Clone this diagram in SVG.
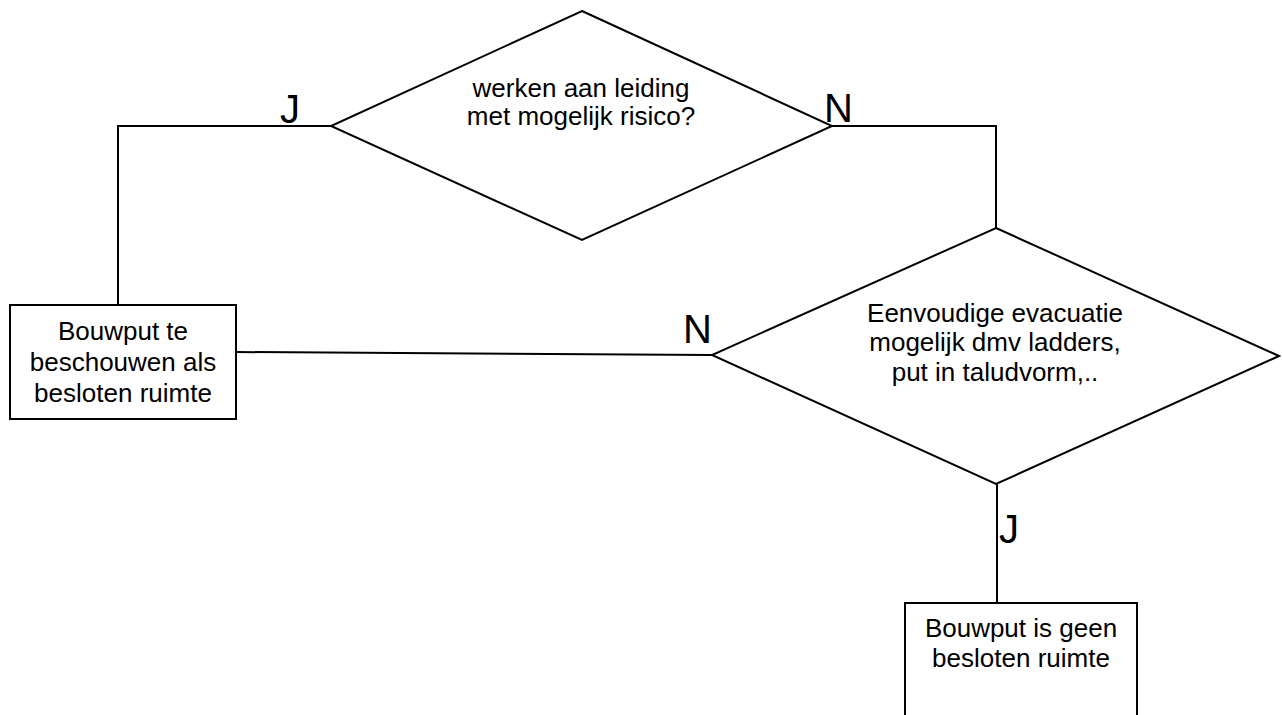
<svg xmlns="http://www.w3.org/2000/svg" width="1282" height="715" viewBox="0 0 1282 715">
<style>
.shape{fill:#fff;stroke:#000;stroke-width:2}
.line{fill:none;stroke:#000;stroke-width:2}
.t{font-family:"Liberation Sans",Arial,sans-serif;font-size:26px;fill:#000;text-anchor:middle}
.lbl{font-family:"Liberation Sans",Arial,sans-serif;font-size:40px;fill:#000}
</style>
<rect width="1282" height="715" fill="#fff"/>
<g id="connectors">
<polyline class="line" points="331,126 118,126 118,305"/>
<polyline class="line" points="832,126 996,126 996,228"/>
<line class="line" x1="236" y1="352" x2="712" y2="355"/>
<line class="line" x1="997" y1="484" x2="997" y2="603"/>
<text class="lbl" x="280" y="123">J</text>
<text class="lbl" x="824" y="122">N</text>
<text class="lbl" x="683" y="343">N</text>
<text class="lbl" x="999" y="543">J</text>
</g>
<g id="decision1">
<polygon class="shape" points="582,11 832,126 582,240 331,126"/>
<text class="t" x="581" y="97">werken aan leiding</text>
<text class="t" x="581" y="125">met mogelijk risico?</text>
</g>
<g id="decision2">
<polygon class="shape" points="996,228 1279,356 996,484 712,355"/>
<text class="t" x="995" y="322">Eenvoudige evacuatie</text>
<text class="t" x="995" y="351">mogelijk dmv ladders,</text>
<text class="t" x="995" y="381">put in taludvorm,..</text>
</g>
<g id="box1">
<rect class="shape" x="10" y="305" width="226" height="114"/>
<text class="t" x="123" y="340">Bouwput te</text>
<text class="t" x="123" y="371">beschouwen als</text>
<text class="t" x="123" y="402">besloten ruimte</text>
</g>
<g id="box2">
<rect class="shape" x="905" y="603" width="232" height="130"/>
<text class="t" x="1021" y="637">Bouwput is geen</text>
<text class="t" x="1021" y="667">besloten ruimte</text>
</g>
</svg>
